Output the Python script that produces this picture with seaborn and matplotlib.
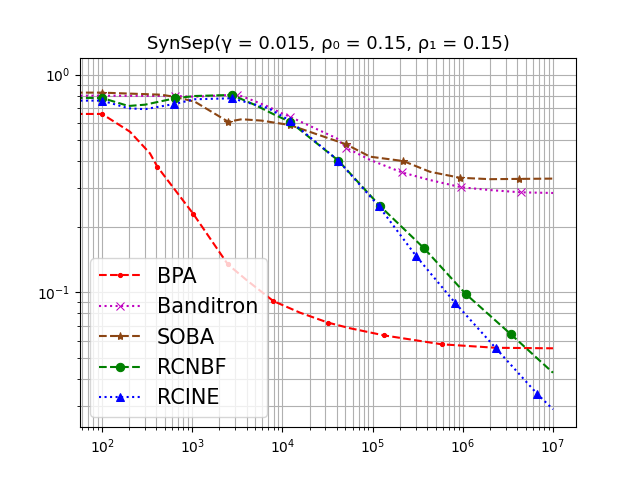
import matplotlib
matplotlib.use("Agg")
import matplotlib.pyplot as plt
import seaborn as sns

# values (x = rounds, y = error rate)
bpa_x = [50, 100, 204, 340, 410, 1030, 2480, 4020, 7920, 15700, 32300, 56000, 134000, 583000, 2330000, 10000000]
bpa_y = [0.66, 0.66, 0.547, 0.435, 0.378, 0.229, 0.1345, 0.1137, 0.0912, 0.0806, 0.0725, 0.0684, 0.0634, 0.0577, 0.0556, 0.0553]
bpa_marks = [1, 4, 5, 6, 8, 10, 12, 13, 14]

banditron_x = [50, 100, 195, 458, 644, 1070, 3140, 4570, 6980, 9800, 12100, 40000, 50700, 93600, 210000, 432000, 955000, 2000000, 4420000, 10000000]
banditron_y = [0.801, 0.801, 0.800, 0.798, 0.798, 0.792, 0.81, 0.765, 0.713, 0.665, 0.641, 0.510, 0.462, 0.406, 0.356, 0.328, 0.304, 0.295, 0.288, 0.286]
banditron_marks = [1, 4, 6, 10, 12, 14, 16, 18]

soba_x = [50, 100, 458, 644, 830, 1070, 2500, 3540, 5900, 12100, 50700, 93600, 219000, 432000, 931000, 2000000, 4230000, 10000000]
soba_y = [0.827, 0.827, 0.809, 0.79, 0.771, 0.751, 0.608, 0.624, 0.615, 0.587, 0.479, 0.420, 0.401, 0.358, 0.336, 0.331, 0.332, 0.333]
soba_marks = [1, 3, 6, 9, 10, 12, 14, 16]

rcnbf_x = [50, 100, 196, 300, 644, 1070, 2760, 4970, 8280, 12100, 41700, 121000, 374000, 1080000, 3420000, 10000000]
rcnbf_y = [0.782, 0.782, 0.718, 0.728, 0.779, 0.798, 0.807, 0.726, 0.653, 0.608, 0.403, 0.249, 0.159, 0.0982, 0.0641, 0.0427]
rcnbf_marks = [1, 4, 6, 9, 10, 11, 12, 13, 14]

rcine_x = [50, 100, 196, 300, 628, 1070, 2760, 6980, 12100, 41700, 117000, 303000, 821000, 2330000, 6700000, 10000000]
rcine_y = [0.760, 0.760, 0.701, 0.694, 0.733, 0.771, 0.779, 0.701, 0.615, 0.403, 0.249, 0.147, 0.0895, 0.0553, 0.0341, 0.029]
rcine_marks = [1, 4, 6, 8, 9, 10, 11, 12, 13, 14]

fig, ax = plt.subplots(figsize=(6.4, 4.8), dpi=100)

series = [
    ("BPA", bpa_x, bpa_y, bpa_marks, "red", "--", "."),
    ("Banditron", banditron_x, banditron_y, banditron_marks, "m", ":", "x"),
    ("SOBA", soba_x, soba_y, soba_marks, "#8B4513", "--", "*"),
    ("RCNBF", rcnbf_x, rcnbf_y, rcnbf_marks, "green", "--", "o"),
    ("RCINE", rcine_x, rcine_y, rcine_marks, "blue", ":", "^"),
]

for name, xs, ys, marks, col, ls, mk in series:
    sns.lineplot(x=xs, y=ys, ax=ax, color=col, linestyle=ls, marker=mk,
                 markevery=marks, markersize=6, markeredgecolor=col,
                 linewidth=1.5, label=name, estimator=None, sort=False)

ax.set_xscale("log")
ax.set_yscale("log")
ax.set_xlim(57, 1.8e7)
ax.set_ylim(0.024, 1.198)
ax.grid(True, which="both")
ax.set_title("SynSep(γ = 0.015, ρ₀ = 0.15, ρ₁ = 0.15)", fontsize=13)
ax.legend(loc="lower left", fontsize=15)

plt.savefig("out.png")
